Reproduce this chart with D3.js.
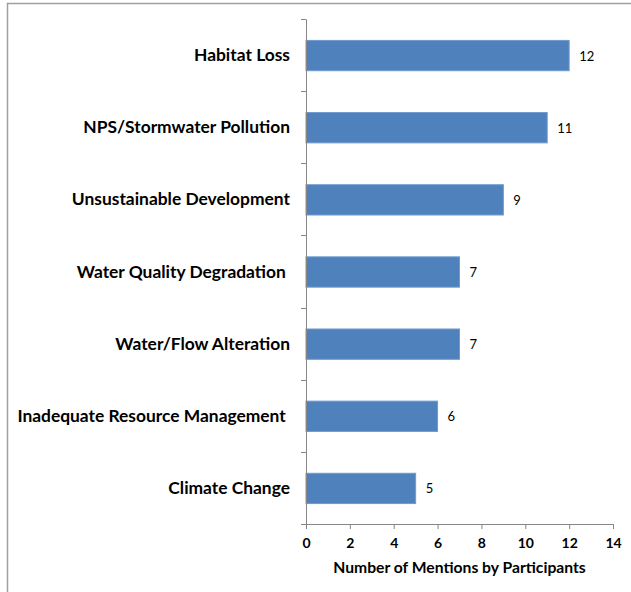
<!DOCTYPE html>
<html>
<head>
<meta charset="utf-8">
<script src="https://cdn.jsdelivr.net/npm/d3@7"></script>
<style>
  html, body { margin: 0; padding: 0; background: #fff; }
  svg { display: block; }
  text { font-family: Lato, "Open Sans", sans-serif; }
</style>
</head>
<body>
<svg id="chart" width="631" height="592"></svg>
<script>
const categories = [
  "Habitat Loss",
  "NPS/Stormwater Pollution",
  "Unsustainable Development",
  "Water Quality Degradation ",
  "Water/Flow Alteration",
  "Inadequate Resource Management ",
  "Climate Change"
];
const values = [12, 11, 9, 7, 7, 6, 5];
const xTicks = [0, 2, 4, 6, 8, 10, 12, 14];
const xTitle = "Number of Mentions by Participants";

const svg = d3.select("#chart");
const axisColor = "#868686";

// outer chart border
svg.append("rect")
  .attr("x", 7.5).attr("y", 3.5)
  .attr("width", 660).attr("height", 620)
  .attr("fill", "none").attr("stroke", "#a0a0a0").attr("stroke-width", 1.5);

const x = d3.scaleLinear().domain([0, 14]).range([306, 613]);
const y = d3.scaleBand().domain(categories).range([19, 524]).padding(0);
const barFrac = 0.42;

// bars
svg.append("g").selectAll("rect")
  .data(categories)
  .join("rect")
  .attr("x", x(0))
  .attr("y", d => y(d) + y.bandwidth() * (1 - barFrac) / 2 + 0.5)
  .attr("width", (d, i) => x(values[i]) - x(0))
  .attr("height", y.bandwidth() * barFrac)
  .attr("fill", "#4F81BD")
  .attr("stroke", "#6f9bd0")
  .attr("stroke-width", 1);

// value labels
svg.append("g").selectAll("text")
  .data(categories)
  .join("text")
  .attr("x", (d, i) => x(values[i]) + 10)
  .attr("y", d => y(d) + y.bandwidth() / 2 + 1)
  .attr("dy", "0.35em")
  .attr("font-size", 13)
  .attr("fill", "#000")
  .text((d, i) => values[i]);

// y axis
const yAxis = d3.axisLeft(y).tickSize(0).tickFormat("");
const gy = svg.append("g").attr("transform", `translate(${x(0)},0)`).call(yAxis);
gy.select(".domain").attr("stroke", axisColor);
// band boundary ticks
const bounds = categories.map(c => y(c)).concat([y.range()[1]]);
svg.append("g").selectAll("line")
  .data(bounds)
  .join("line")
  .attr("x1", x(0) - 5).attr("x2", x(0))
  .attr("y1", d => Math.round(d) + 0.5).attr("y2", d => Math.round(d) + 0.5)
  .attr("stroke", axisColor);

// category labels
svg.append("g").selectAll("text")
  .data(categories)
  .join("text")
  .attr("x", 290)
  .attr("y", d => y(d) + y.bandwidth() / 2)
  .attr("dy", "0.35em")
  .attr("text-anchor", "end")
  .attr("font-weight", "bold")
  .attr("font-size", 17.4)
  .attr("fill", "#000")
  .style("white-space", "pre")
  .text(d => d);

// x axis
const xAxis = d3.axisBottom(x).tickValues(xTicks).tickSize(5).tickPadding(9);
const gx = svg.append("g").attr("transform", `translate(0,${y.range()[1]})`).call(xAxis);
gx.select(".domain").attr("stroke", axisColor);
gx.selectAll(".tick line").attr("stroke", axisColor);
gx.selectAll(".tick text")
  .attr("font-family", "Lato, sans-serif")
  .attr("font-weight", "bold")
  .attr("font-size", 14)
  .attr("fill", "#000");

// x axis title
svg.append("text")
  .attr("x", (x.range()[0] + x.range()[1]) / 2)
  .attr("y", 573)
  .attr("text-anchor", "middle")
  .attr("font-weight", "bold")
  .attr("font-size", 15.7)
  .attr("fill", "#000")
  .text(xTitle);
</script>
</body>
</html>
